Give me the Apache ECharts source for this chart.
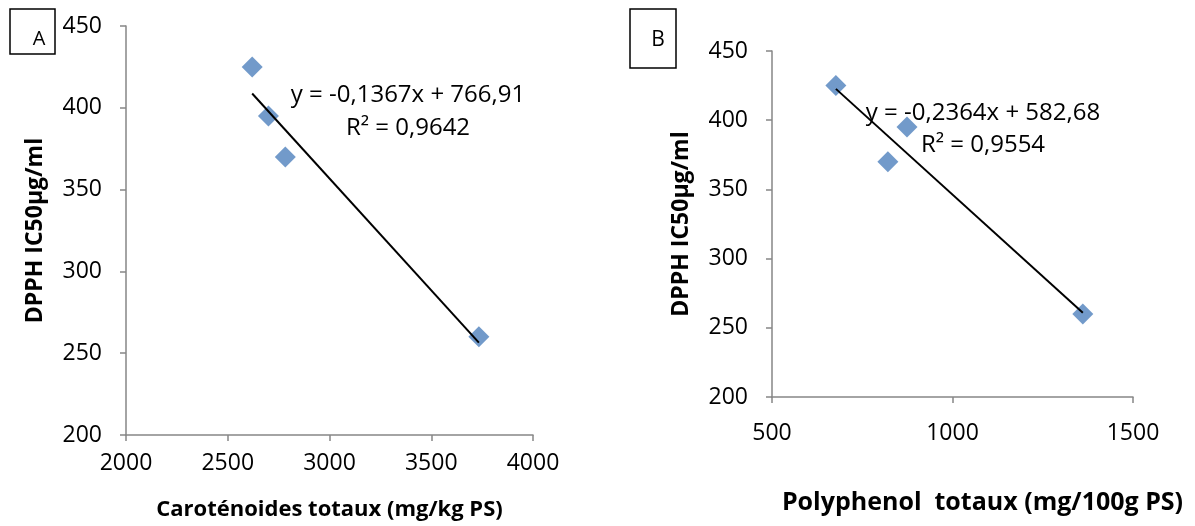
<!DOCTYPE html>
<html>
<head>
<meta charset="utf-8">
<script src="https://cdn.jsdelivr.net/npm/echarts@6/dist/echarts.min.js"></script>
<style>
html,body{margin:0;padding:0;background:#fff;}
#chart{width:1195px;height:526px;}
</style>
</head>
<body>
<div id="chart"></div>
<script>
// Panel A: carotenoids vs DPPH IC50
const caroX = [2620, 2700, 2783, 3734];
const dpphA = [425, 395, 370, 260];
const slopeA = -0.1367, interceptA = 766.91;
const eqA = 'y = -0,1367x + 766,91';
const r2A = 'R² = 0,9642';
const xTitleA = 'Caroténoides totaux (mg/kg PS)';

// Panel B: polyphenols vs DPPH IC50
const polyX = [677, 874, 821, 1361];
const dpphB = [425, 395, 370, 260];
const slopeB = -0.2364, interceptB = 582.68;
const eqB = 'y = -0,2364x + 582,68';
const r2B = 'R² = 0,9554';
const xTitleB = 'Polyphenol  totaux (mg/100g PS)';

const yTitle = 'DPPH IC50µg/ml';
const panelLabels = ['A', 'B'];

function pairs(xs, ys){ return xs.map((x,i)=>[x, ys[i]]); }
function trend(xs, m, b){
  const lo = Math.min(...xs), hi = Math.max(...xs);
  return [[lo, m*lo + b], [hi, m*hi + b]];
}

const FONT = 'Open Sans';
const axisGray = '#868686';
const axisCommon = {
  axisLine: {show: true, lineStyle: {color: axisGray, width: 1.5}},
  axisTick: {show: true, length: 6, lineStyle: {color: axisGray, width: 1.5}},
  splitLine: {show: false},
  axisLabel: {color: '#000', fontFamily: FONT, fontSize: 23, formatter: v => String(v)}
};
const nameStyle = {color: '#000', fontFamily: FONT, fontSize: 22, fontWeight: 'bold'};

const chart = echarts.init(document.getElementById('chart'), null, {renderer: 'canvas'});
chart.setOption({
  animation: false,
  backgroundColor: '#fff',
  grid: [
    {left: 126, top: 26, width: 407, height: 410},
    {left: 772, top: 51, width: 361, height: 346}
  ],
  xAxis: [
    Object.assign({}, axisCommon, {gridIndex: 0, type: 'value', min: 2000, max: 4000, interval: 500,
      axisLabel: Object.assign({}, axisCommon.axisLabel, {margin: 17}),
      name: xTitleA, nameLocation: 'middle', nameGap: 64, nameTextStyle: Object.assign({}, nameStyle, {verticalAlign: 'top'})}),
    Object.assign({}, axisCommon, {gridIndex: 1, type: 'value', min: 500, max: 1500, interval: 500,
      axisLabel: Object.assign({}, axisCommon.axisLabel, {margin: 25}),
      name: xTitleB, nameLocation: 'middle', nameGap: 93, nameTextStyle: Object.assign({}, nameStyle, {fontSize: 25, verticalAlign: 'top', padding: [0, 0, 0, 60]})})
  ],
  yAxis: [
    Object.assign({}, axisCommon, {gridIndex: 0, type: 'value', min: 200, max: 450, interval: 50,
      axisLabel: Object.assign({}, axisCommon.axisLabel, {margin: 24}),
      name: yTitle, nameLocation: 'middle', nameGap: 79, nameRotate: 90, nameTextStyle: Object.assign({}, nameStyle, {fontSize: 23})}),
    Object.assign({}, axisCommon, {gridIndex: 1, type: 'value', min: 200, max: 450, interval: 50,
      axisLabel: Object.assign({}, axisCommon.axisLabel, {margin: 24}),
      name: yTitle, nameLocation: 'middle', nameGap: 79, nameRotate: 90, nameTextStyle: Object.assign({}, nameStyle, {fontSize: 23})})
  ],
  series: [
    {type: 'line', xAxisIndex: 0, yAxisIndex: 0, data: trend(caroX, slopeA, interceptA), symbol: 'none',
     lineStyle: {color: '#000', width: 2}, z: 3},
    {type: 'scatter', xAxisIndex: 0, yAxisIndex: 0, data: pairs(caroX, dpphA), symbol: 'diamond', symbolSize: 21,
     itemStyle: {color: '#4F81BD'}, z: 2},
    {type: 'line', xAxisIndex: 1, yAxisIndex: 1, data: trend(polyX, slopeB, interceptB), symbol: 'none',
     lineStyle: {color: '#000', width: 2}, z: 3},
    {type: 'scatter', xAxisIndex: 1, yAxisIndex: 1, data: pairs(polyX, dpphB), symbol: 'diamond', symbolSize: 21,
     itemStyle: {color: '#4F81BD'}, z: 2}
  ],
  graphic: [
    {type: 'rect', shape: {x: 10, y: 9, width: 45, height: 45}, style: {fill: '#fff', stroke: '#000', lineWidth: 1.5}},
    {type: 'text', x: 39, y: 39, style: {text: panelLabels[0], font: '20px "' + FONT + '"', fill: '#000', align: 'center', verticalAlign: 'middle'}},
    {type: 'rect', shape: {x: 630, y: 9, width: 46, height: 59}, style: {fill: '#fff', stroke: '#000', lineWidth: 1.5}},
    {type: 'text', x: 658, y: 40, style: {text: panelLabels[1], font: '21px "' + FONT + '"', fill: '#000', align: 'center', verticalAlign: 'middle'}},
    {type: 'text', x: 408, y: 95, z: 10, style: {text: eqA, font: '24px "' + FONT + '"', fill: '#000', align: 'center', verticalAlign: 'middle'}},
    {type: 'text', x: 408, y: 128, z: 10, style: {text: r2A, font: '24px "' + FONT + '"', fill: '#000', align: 'center', verticalAlign: 'middle'}},
    {type: 'text', x: 983, y: 113, z: 10, style: {text: eqB, font: '24px "' + FONT + '"', fill: '#000', align: 'center', verticalAlign: 'middle'}},
    {type: 'text', x: 983, y: 145, z: 10, style: {text: r2B, font: '24px "' + FONT + '"', fill: '#000', align: 'center', verticalAlign: 'middle'}}
  ]
});
</script>
</body>
</html>
